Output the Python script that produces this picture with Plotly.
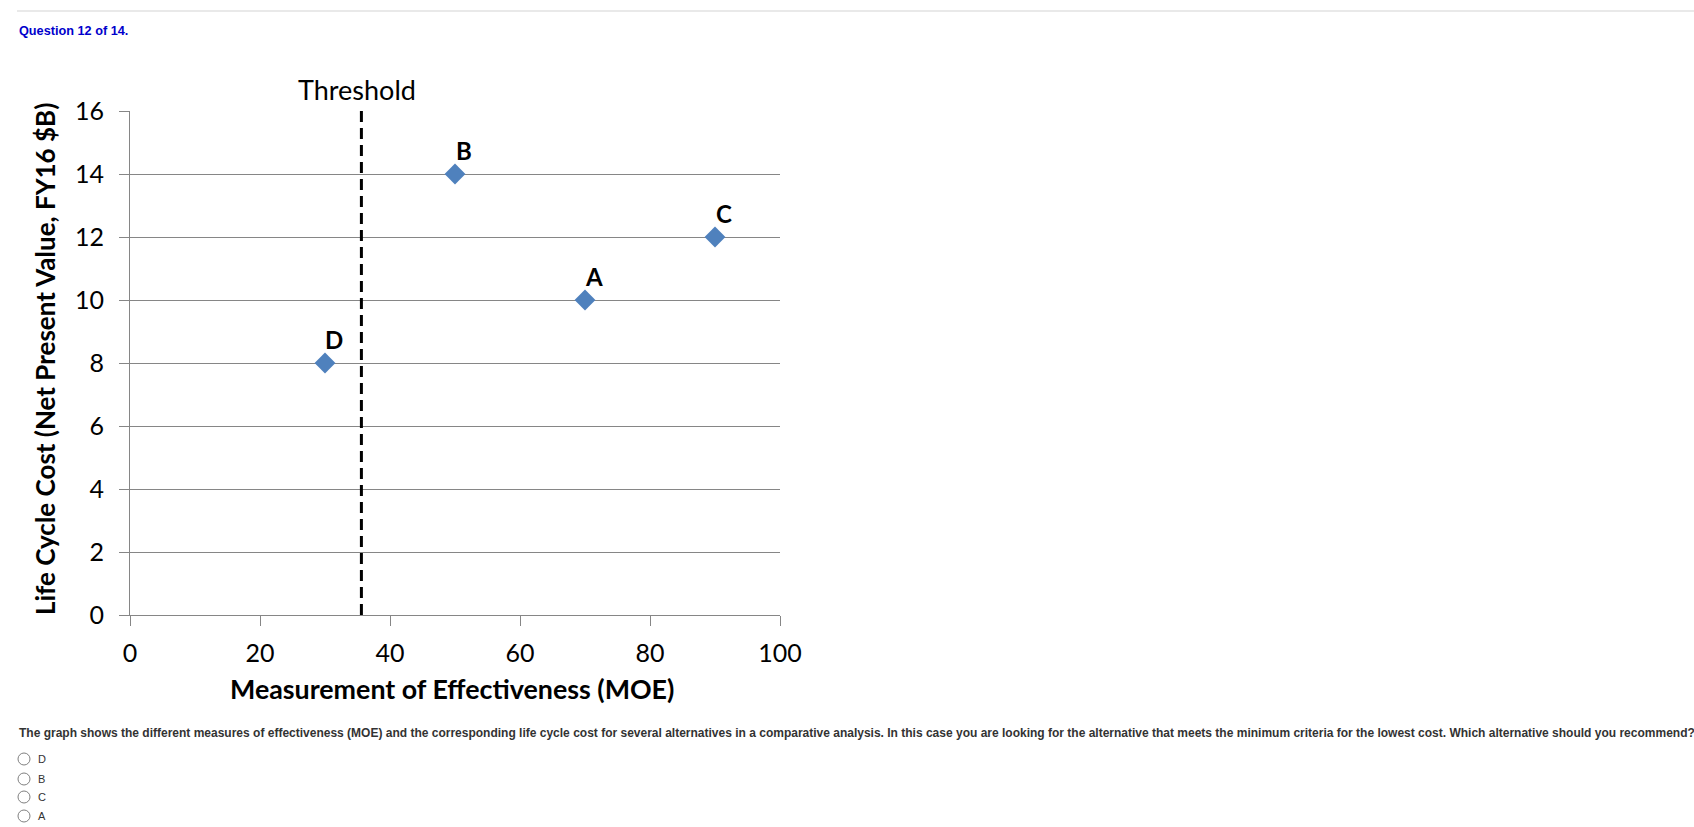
import plotly.graph_objects as go

# ---- data ----
labels = ["A", "B", "C", "D"]
moe = [70, 50, 90, 30]
cost = [10, 14, 12, 8]
threshold_moe = 35.6
x_ticks = [0, 20, 40, 60, 80, 100]
y_ticks = [0, 2, 4, 6, 8, 10, 12, 14, 16]
answer_options = ["D", "B", "C", "A"]
question_header = "Question 12 of 14."
question_text = ("The graph shows the different measures of effectiveness (MOE) and the corresponding "
                 "life cycle cost for several alternatives in a comparative analysis. In this case you are "
                 "looking for the alternative that meets the minimum criteria for the lowest cost. "
                 "Which alternative should you recommend?")

W, H = 1694, 827
ML, MR, MT, MB = 130, 914, 111, 212
PW, PH = W - ML - MR, H - MT - MB

def px(xp):
    return (xp - ML) / PW

def py(yp):
    return (H - MB - yp) / PH

GRID = "#868686"
BLUE = "#4F81BD"
FONT = "Lato"

fig = go.Figure()
fig.add_trace(go.Scatter(
    x=moe, y=cost, mode="markers",
    marker=dict(symbol="diamond", size=16, color=BLUE),
    hoverinfo="skip", showlegend=False, cliponaxis=False,
))

for lab, xv, yv in zip(labels, moe, cost):
    fig.add_annotation(x=xv, y=yv, xref="x", yref="y", text=f"<b>{lab}</b>",
                       showarrow=False, xshift=9, yshift=24, xanchor="center", yanchor="middle",
                       font=dict(family=FONT, size=24, color="black"))

# threshold line
fig.add_shape(type="line", xref="x", yref="paper", x0=threshold_moe, x1=threshold_moe,
              y0=0, y1=1.009, line=dict(color="black", width=3, dash="11px,6px"))
fig.add_annotation(x=threshold_moe, xref="x", y=py(90), yref="paper", text="Threshold",
                   showarrow=False, xshift=-4, xanchor="center", yanchor="middle",
                   font=dict(family=FONT, size=27, color="black"))

# axis titles
fig.add_annotation(x=px(452), y=py(689), xref="paper", yref="paper",
                   xanchor="center", yanchor="middle",
                   text="<b>Measurement of Effectiveness (MOE)</b>", showarrow=False,
                   font=dict(family=FONT, size=26.8, color="black"))
fig.add_annotation(x=px(45), y=py(359), xref="paper", yref="paper", textangle=-90,
                   xanchor="center", yanchor="middle",
                   text="<b>Life Cycle Cost (Net Present Value, FY16 $B)</b>", showarrow=False,
                   font=dict(family=FONT, size=26, color="black"))

# page elements
fig.add_shape(type="line", xref="paper", yref="paper", x0=px(17), x1=px(1694), y0=py(11), y1=py(11),
              line=dict(color="#d3d3d3", width=1))
fig.add_annotation(x=px(17), y=py(31), xref="paper", yref="paper", xanchor="left", yanchor="middle",
                   text=f"<b>{question_header}</b>", showarrow=False,
                   font=dict(family="Liberation Sans, Arial", size=12.7, color="#0000CC"))
fig.add_annotation(x=px(17), y=py(733), xref="paper", yref="paper", xanchor="left", yanchor="middle",
                   text=f"<b>{question_text}</b>", showarrow=False,
                   font=dict(family="Liberation Sans, Arial", size=12, color="#333333"))
radio_y = [759, 779, 797, 816]
for opt, ry in zip(answer_options, radio_y):
    fig.add_shape(type="circle", xref="paper", yref="paper", xsizemode="pixel", ysizemode="pixel",
                  xanchor=px(24), yanchor=py(ry), x0=-6, x1=6, y0=-6, y1=6,
                  line=dict(color="#808080", width=1), fillcolor="white")
    fig.add_annotation(x=px(36), y=py(ry), xref="paper", yref="paper", xanchor="left", yanchor="middle",
                       text=opt, showarrow=False,
                       font=dict(family="Liberation Sans, Arial", size=11, color="#333333"))

fig.update_xaxes(range=[0, 100], tickvals=x_ticks, showgrid=False, zeroline=False,
                 showline=True, linecolor=GRID, linewidth=1, ticks="outside", ticklen=10,
                 tickcolor=GRID, ticklabelstandoff=6,
                 tickfont=dict(family=FONT, size=25, color="black"))
fig.update_yaxes(range=[0, 16], tickvals=y_ticks, showgrid=True, gridcolor=GRID, gridwidth=1,
                 zeroline=False, showline=True, linecolor=GRID, linewidth=1, ticks="outside",
                 ticklen=10, tickcolor=GRID, ticklabelstandoff=10,
                 tickfont=dict(family=FONT, size=25, color="black"))

fig.update_layout(width=W, height=H, margin=dict(l=ML, r=MR, t=MT, b=MB, autoexpand=False),
                  paper_bgcolor="white", plot_bgcolor="white", showlegend=False)

fig.write_html("out.html", config={"displayModeBar": False},
               post_script="document.body.style.margin='0';document.body.style.overflow='hidden';")
